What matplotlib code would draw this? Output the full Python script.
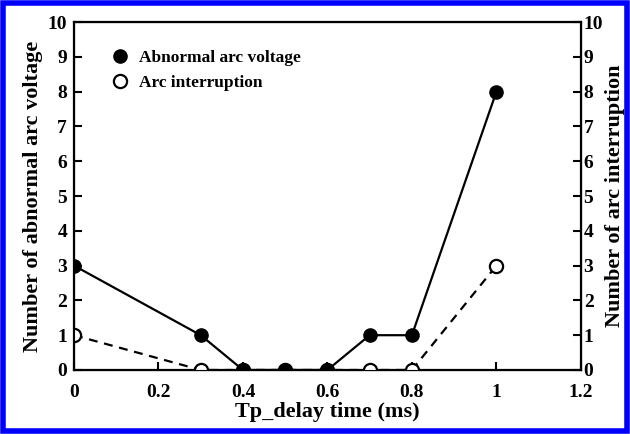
import matplotlib.pyplot as plt
from matplotlib.patches import Rectangle

plt.rcParams['font.family'] = ['Liberation Serif', 'DejaVu Serif']
plt.rcParams['font.weight'] = 'bold'

# delay time (ms) and event counts
delay_ms = [0, 0.3, 0.4, 0.5, 0.6, 0.7, 0.8, 1.0]
abnormal_voltage = [3, 1, 0, 0, 0, 1, 1, 8]
arc_interruption = [1, 0, 0, 0, 0, 0, 0, 3]

x_ticks = [0, 0.2, 0.4, 0.6, 0.8, 1.0, 1.2]
x_tick_labels = ['0', '0.2', '0.4', '0.6', '0.8', '1', '1.2']
y_ticks = list(range(0, 11))

fig = plt.figure(figsize=(6.3, 4.34), dpi=100)
ax = fig.add_axes([0.1175, 0.1475, 0.8045, 0.8015])

ax.plot(delay_ms, arc_interruption, ls=(0, (4, 3)), color='black', lw=1.6,
        marker='o', ms=9.5, mfc='white', mec='black', mew=1.6,
        label='Arc interruption', zorder=3)
ax.plot(delay_ms, abnormal_voltage, ls='-', color='black', lw=1.6,
        marker='o', ms=9.5, mfc='black', mec='black',
        label='Abnormal arc voltage', zorder=4)

ax.set_xlim(0, 1.2)
ax.set_ylim(0, 10)
ax.set_xticks(x_ticks)
ax.set_xticklabels(x_tick_labels)
ax.set_yticks(y_ticks)
ax.tick_params(direction='in', length=6, width=1.5, labelsize=14)
ax.tick_params(axis='x', pad=10)
ax.tick_params(axis='y', pad=5)
for s in ax.spines.values():
    s.set_linewidth(1.6)
ax.set_xlabel('Tp_delay time (ms)', fontsize=16, fontweight='bold', labelpad=1)
ax.set_ylabel('Number of abnormal arc voltage', fontsize=16, fontweight='bold', labelpad=3)

ax2 = ax.twinx()
ax2.set_ylim(0, 10)
ax2.set_yticks(y_ticks)
ax2.tick_params(direction='in', length=6, width=1.5, labelsize=14, pad=2)
ax2.set_ylabel('Number of arc interruption', fontsize=16, fontweight='bold', labelpad=1)

handles, labels = ax.get_legend_handles_labels()
leg = ax.legend(handles[::-1], labels[::-1], loc='upper left',
                bbox_to_anchor=(0.06, 0.965), frameon=False, handlelength=0,
                handletextpad=1.1, labelspacing=0.5,
                prop={'family': 'Liberation Serif', 'weight': 'bold', 'size': 12.5})
for h in leg.legend_handles:
    h.set_linestyle('none')

# blue frame around the figure
fig.patches.append(Rectangle((0.004, 0.006), 0.992, 0.988, transform=fig.transFigure,
                             fill=False, edgecolor='#0000ff', lw=4))

fig.savefig('out.png', dpi=100)
